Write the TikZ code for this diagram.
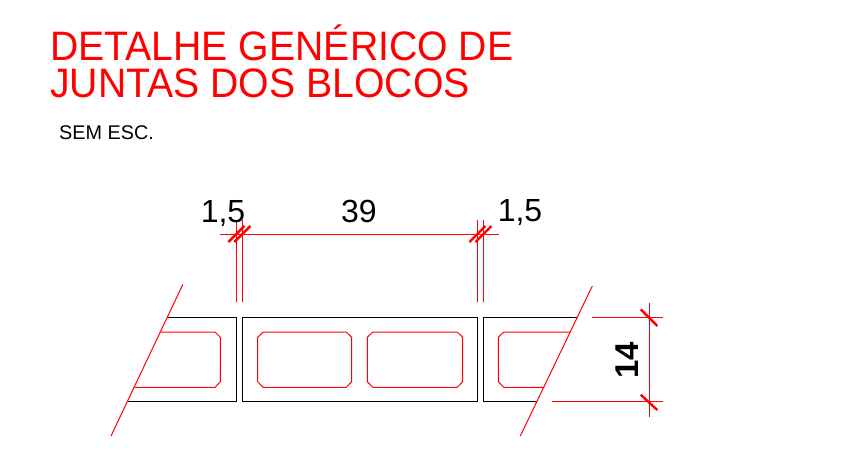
\documentclass[tikz,border=0pt]{standalone}
\usepackage{fontspec}
\setmainfont{Liberation Sans}
\tikzset{
	redline/.style={draw=red,line width=1pt},
	blockline/.style={draw=black,line width=1pt},
	dimtick/.style={draw=red,line width=2.4pt},
	titletext/.style={text=red,font=\fontsize{39.2}{39.2}\selectfont,anchor=base west,inner sep=0pt,yscale=1.05},
	dimtext/.style={text=black,font=\fontsize{32}{32}\selectfont,anchor=base,inner sep=0pt}
}
\begin{document}
\begin{tikzpicture}[x=1pt,y=-1pt]
\useasboundingbox (0,0) rectangle (860,451);

\node[titletext] (title1) at (50,60) {DETALHE GENÉRICO DE};
\node[titletext] (title2) at (50,97.5) {JUNTAS DOS BLOCOS};
\node[text=black,font=\fontsize{19.8}{19.8}\selectfont,anchor=base west,inner sep=0pt] (scale) at (59,139) {SEM ESC.};

	% blocks
	\draw[blockline] (167.3,317.7) -- (236.3,317.7) -- (236.3,401.7) -- (127.3,401.7);
	\draw[blockline] (242,317.7) rectangle (477.7,401.7);
	\draw[blockline] (576.7,317.7) -- (483,317.7) -- (483,401.7) -- (537.3,401.7);

	% holes
	\draw[redline] (160.7,332) -- (215,332) -- (220.3,337.3) -- (220.3,381.7) -- (215,387.3) -- (134.7,387.3);
	\foreach \xa/\xb in {257.7/351.7,367.3/462.7}
		\draw[redline] (\xa+5.5,332) -- (\xb-5.5,332) -- (\xb,337.3) -- (\xb,381.7) -- (\xb-5.5,387.3)
			-- (\xa+5.5,387.3) -- (\xa,381.7) -- (\xa,337.3) -- cycle;
	\draw[redline] (570,332) -- (503.8,332) -- (498.3,337.3) -- (498.3,381.7) -- (503.8,387.3) -- (544,387.3);

	% break lines
	\draw[redline] (182.7,284.7) -- (111,436);
	\draw[redline] (592.3,286) -- (520.3,436);

	% top dimensions
	\draw[redline] (220,234) -- (499,234);
	\foreach \x in {236.3,242.3,477.5,483.5}{
		\draw[redline] (\x,220) -- (\x,302.3);
		\draw[dimtick] (\x-8,242) -- (\x+8,226);
	}
\node[dimtext] (left) at (223,222) {1,5};
\node[dimtext] (mid) at (359,222) {39};
\node[dimtext] (right) at (520,221) {1,5};

	% side dimension
	\draw[redline] (592.3,317.7) -- (663.3,317.7);
	\draw[redline] (552,401.7) -- (663.3,401.7);
	\draw[redline] (649,302.7) -- (649,417);
	\draw[dimtick] (640.7,309.3) -- (657.3,326);
	\draw[dimtick] (640.7,394.7) -- (657.3,410);
\node[dimtext,font=\fontsize{33}{33}\selectfont\bfseries,rotate=90] (height) at (638,360) {14};
\end{tikzpicture}
\end{document}
